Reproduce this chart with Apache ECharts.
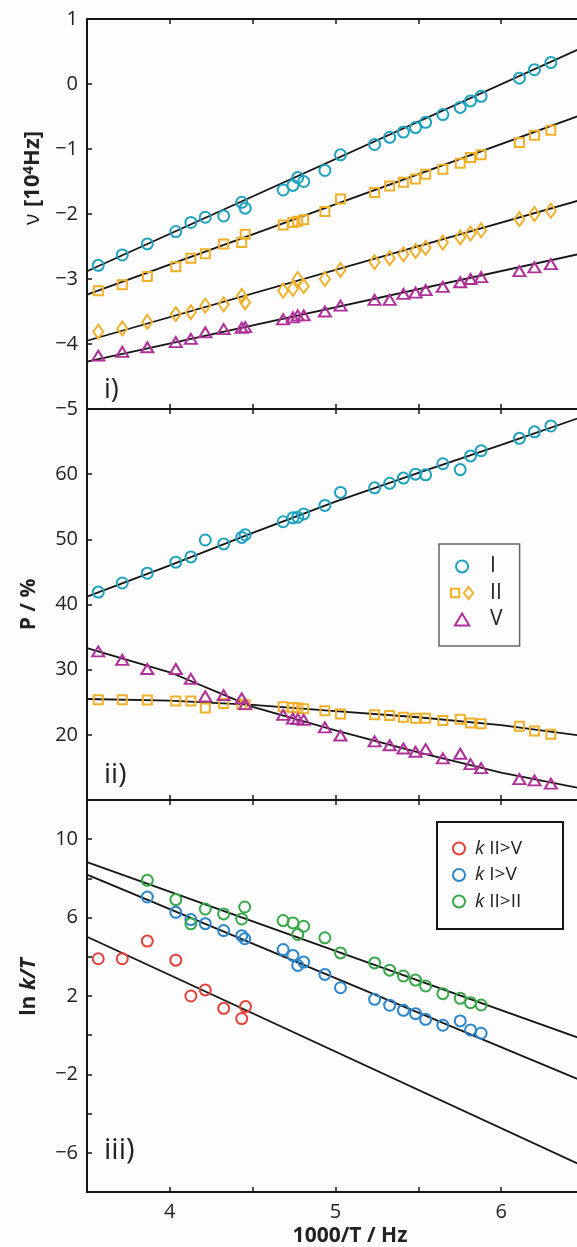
<!DOCTYPE html>
<html>
<head>
<meta charset="utf-8">
<title>Frequencies, populations and rates vs 1000/T</title>
<script src="https://cdn.jsdelivr.net/npm/echarts@6/dist/echarts.min.js"></script>
<style>
  html, body { margin: 0; padding: 0; background: #fdfdfd; }
  #chart { width: 577px; height: 1247px; }
</style>
</head>
<body>
<div id="chart"></div>
<script>
// 1000/T for every measured temperature (panels i and ii)
const invT = [3.568, 3.713, 3.864, 4.036, 4.127, 4.214, 4.325, 4.434, 4.455, 4.684, 4.743, 4.772, 4.808, 4.936, 5.030,
  5.236, 5.327, 5.410, 5.483, 5.544, 5.648, 5.753, 5.815, 5.879, 6.110, 6.201, 6.300]

// panel i) frequencies, 10^4 Hz
const nuI = [-2.79, -2.63, -2.46, -2.27, -2.13, -2.05, -2.03, -1.82, -1.91, -1.63, -1.56, -1.44, -1.50, -1.33, -1.09,
  -0.93, -0.82, -0.74, -0.67, -0.59, -0.47, -0.36, -0.26, -0.19, 0.09, 0.22, 0.33]
const nuIIsq = [-3.18, -3.09, -2.96, -2.81, -2.68, -2.61, -2.46, -2.44, -2.31, -2.17, -2.13, -2.11, -2.09, -1.96, -1.77,
  -1.67, -1.57, -1.51, -1.46, -1.39, -1.31, -1.22, -1.13, -1.09, -0.90, -0.79, -0.71]
const nuIIdia = [-3.81, -3.76, -3.66, -3.54, -3.51, -3.41, -3.39, -3.26, -3.36, -3.18, -3.15, -3.00, -3.11, -3.00, -2.86,
  -2.74, -2.68, -2.62, -2.57, -2.52, -2.44, -2.36, -2.30, -2.25, -2.08, -2.00, -1.95]
const nuV = [-4.18, -4.12, -4.05, -3.97, -3.92, -3.82, -3.77, -3.75, -3.74, -3.62, -3.59, -3.56, -3.56, -3.50, -3.41,
  -3.32, -3.32, -3.23, -3.21, -3.17, -3.12, -3.05, -3.00, -2.97, -2.88, -2.82, -2.77]

// panel ii) populations, %
const pI = [41.9, 43.3, 44.8, 46.5, 47.3, 49.9, 49.3, 50.3, 50.7, 52.7, 53.3, 53.4, 53.9, 55.2, 57.2,
  57.9, 58.6, 59.4, 60.0, 59.9, 61.6, 60.7, 62.8, 63.6, 65.5, 66.5, 67.4]
const pII = [25.4, 25.4, 25.35, 25.2, 25.2, 24.1, 24.8, 24.7, 24.6, 24.3, 24.2, 24.1, 24.0, 23.7, 23.2,
  23.1, 22.95, 22.7, 22.55, 22.55, 22.2, 22.4, 21.8, 21.7, 21.3, 20.6, 20.1]
const pV = [32.8, 31.5, 30.1, 30.1, 28.6, 25.9, 26.1, 25.6, 24.7, 23.05, 22.5, 22.4, 22.3, 21.15, 19.9,
  19.0, 18.4, 17.9, 17.4, 17.8, 16.4, 17.1, 15.5, 14.9, 13.2, 13.0, 12.5]

// panel iii) ln k/T
const kIIVx = [3.568, 3.713, 3.864, 4.036, 4.127, 4.214, 4.325, 4.434, 4.457]
const kIIV = [3.90, 3.90, 4.80, 3.83, 2.00, 2.31, 1.37, 0.85, 1.46]
const kx = [3.864, 4.036, 4.127, 4.214, 4.325, 4.434, 4.452, 4.684, 4.743, 4.772, 4.808, 4.936, 5.030,
  5.236, 5.327, 5.410, 5.483, 5.544, 5.648, 5.753, 5.815, 5.879]
const kIV = [7.05, 6.27, 5.90, 5.69, 5.34, 5.08, 4.92, 4.37, 4.07, 3.56, 3.73, 3.10, 2.42,
  1.83, 1.53, 1.27, 1.10, 0.81, 0.51, 0.73, 0.27, 0.10]
const kIIII = [7.90, 6.92, 5.68, 6.44, 6.19, 5.93, 6.54, 5.85, 5.73, 5.14, 5.56, 4.97, 4.20,
  3.69, 3.32, 3.02, 2.81, 2.51, 2.12, 1.88, 1.66, 1.54]

// fitted curves
const fitEnds = [3.5, 6.5]
const fitNuI = [-2.88, 0.57]
const fitNuIIsq = [-3.24, -0.46]
const fitNuIIdia = [-3.95, -1.77]
const fitNuV = [-4.27, -2.60]
const fitPx = [3.5, 4.0, 4.5, 5.0, 5.5, 6.0, 6.5]
const fitPI = [41.2, 46.0, 51.0, 55.8, 60.2, 64.5, 68.9]
const fitPII = [25.5, 25.25, 24.6, 23.65, 22.7, 21.5, 19.8]
const fitPV = [33.3, 29.6, 24.3, 20.7, 17.3, 14.2, 11.7]
const fitKIIII = [8.83, -0.23]
const fitKIV = [8.19, -2.37]
const fitKIIV = [5.02, -6.70]

const FONT = '"Open Sans", "DejaVu Sans", sans-serif'
const INK = '#151515'
const CYAN = '#1fa2bf', YELLOW = '#f0b02a', MAGENTA = '#b0309a'
const RED = '#e2413a', BLUE = '#2b86cc', GREEN = '#39a84a'

const pairs = (xs, ys) => xs.map((x, i) => [x, ys[i]])
const minus = v => String(v).replace('-', '\u2212')

const frameLine = { show: true, onZero: false, lineStyle: { color: INK, width: 2 } }
const innerTick = { show: true, inside: true, length: 5, lineStyle: { color: INK, width: 1.5 } }

const makeX = (gridIndex, position, showLabel) => ({
  type: 'value',
  gridIndex,
  position,
  min: 3.5,
  max: 6.5,
  interval: 0.5,
  axisLine: frameLine,
  axisTick: innerTick,
  splitLine: { show: false },
  axisLabel: {
    show: showLabel,
    margin: 10,
    fontSize: 20,
    color: '#222',
    fontFamily: FONT,
    formatter: v => Number.isInteger(v) ? String(v) : ''
  }
})

const makeY = (gridIndex, min, max, interval, formatter) => ({
  type: 'value',
  gridIndex,
  min,
  max,
  interval,
  axisLine: frameLine,
  axisTick: innerTick,
  splitLine: { show: false },
  axisLabel: { margin: 9, fontSize: 20, color: '#222', fontFamily: FONT, formatter },
  nameLocation: 'middle',
  nameRotate: 90
})

const dots = (name, axis, xs, ys, symbol, size, color) => ({
  name,
  type: 'scatter',
  xAxisIndex: axis * 2,
  yAxisIndex: axis,
  symbol,
  symbolSize: size,
  data: pairs(xs, ys),
  itemStyle: { color: 'rgba(0,0,0,0)', borderColor: color, borderWidth: 2, opacity: 1 },
  emphasis: { disabled: true },
  z: 3
})

const fit = (axis, xs, ys) => ({
  name: 'fit',
  type: 'line',
  xAxisIndex: axis * 2,
  yAxisIndex: axis,
  data: pairs(xs, ys),
  symbol: 'none',
  silent: true,
  lineStyle: { color: INK, width: 1.8 },
  z: 1
})

const yAxes = [
  makeY(0, -5, 1, 1, v => minus(v)),
  makeY(1, 10, 70, 10, v => (v === 10 || v === 70) ? '' : String(v)),
  makeY(2, -8, 12, 2, v => ((v + 6) % 4 === 0) ? minus(v) : '')
]
yAxes[0].name = '{n|\u03bd}  {b|[10}{s|4}{b|Hz]}'
yAxes[0].nameGap = 40
yAxes[0].nameTextStyle = {
  padding: [0, 0, 0, 72],
  rich: {
    n: { fontFamily: FONT, fontSize: 21, color: '#222', lineHeight: 24 },
    b: { fontFamily: FONT, fontSize: 22, fontWeight: 'bold', color: '#222', lineHeight: 24 },
    s: { fontFamily: FONT, fontSize: 15, fontWeight: 'bold', color: '#222', lineHeight: 15, verticalAlign: 'top' }
  }
}
yAxes[1].name = 'P / %'
yAxes[1].nameGap = 47
yAxes[1].nameTextStyle = { fontFamily: FONT, fontSize: 21, fontWeight: 'bold', color: '#222', lineHeight: 22 }
yAxes[2].name = '{b|ln }{i|k/T}'
yAxes[2].nameGap = 47
yAxes[2].nameTextStyle = {
  padding: [0, 0, 0, 18],
  rich: {
    b: { fontFamily: FONT, fontSize: 21, fontWeight: 'bold', color: '#222', lineHeight: 22 },
    i: { fontFamily: FONT, fontSize: 21, fontWeight: 'bold', fontStyle: 'italic', color: '#222', lineHeight: 22 }
  }
}

const xAxes = [
  makeX(0, 'bottom', false), makeX(0, 'top', false),
  makeX(1, 'bottom', false), makeX(1, 'top', false),
  makeX(2, 'bottom', true), makeX(2, 'top', false)
]
xAxes[4].name = '1000/T / Hz'
xAxes[4].nameLocation = 'middle'
xAxes[4].nameGap = 34
xAxes[4].nameTextStyle = { fontFamily: FONT, fontSize: 21, fontWeight: 'bold', color: '#222', padding: [0, 0, 0, 29] }

const panelLabel = (text, y, size) => ({
  type: 'text',
  x: 104,
  y,
  style: { text, fontFamily: FONT, fontSize: size, fill: '#222', textVerticalAlign: 'middle' },
  silent: true
})

const myChart = echarts.init(document.getElementById('chart'), null, { renderer: 'canvas' })

const option = {
  backgroundColor: '#fdfdfd',
  animation: false,
  grid: [
    { left: 87, top: 19, width: 497, height: 390, outerBoundsMode: 'none' },
    { left: 87, top: 409, width: 497, height: 391, outerBoundsMode: 'none' },
    { left: 87, top: 800, width: 497, height: 392, outerBoundsMode: 'none' }
  ],
  xAxis: xAxes,
  yAxis: yAxes,
  legend: [
    {
      data: ['I', {
        name: 'II',
        icon: 'path://M0,2L9,2L9,11L0,11Z M19,0L24,6.5L19,13L14,6.5Z',
        itemStyle: { color: 'rgba(0,0,0,0)', borderColor: YELLOW, borderWidth: 2 }
      }, {
        name: 'V',
        icon: 'path://M6,0L12,10L0,10Z',
        itemStyle: { color: 'rgba(0,0,0,0)', borderColor: MAGENTA, borderWidth: 2 }
      }],
      orient: 'vertical',
      left: 439,
      top: 544,
      padding: [12, 17, 16, 11],
      itemGap: 5.5,
      itemWidth: 26,
      itemHeight: 12,
      borderColor: '#666',
      borderWidth: 1.5,
      borderRadius: 0,
      selectedMode: false,
      textStyle: { fontFamily: FONT, fontSize: 21, color: '#222', lineHeight: 21, padding: [0, 0, 0, 10] }
    },
    {
      data: ['k II>V', 'k I>V', 'k II>II'],
      orient: 'vertical',
      left: 437,
      top: 822,
      padding: [16, 41, 17, 15],
      itemGap: 5.5,
      itemWidth: 22,
      itemHeight: 12,
      borderColor: INK,
      borderWidth: 2,
      borderRadius: 0,
      selectedMode: false,
      formatter: name => '{i|k} {r|' + name.slice(2) + '}',
      textStyle: {
        fontFamily: FONT, fontSize: 19, color: '#222', lineHeight: 21,
        rich: {
          i: { fontFamily: FONT, fontSize: 19, fontStyle: 'italic', color: '#222', lineHeight: 21 },
          r: { fontFamily: FONT, fontSize: 19, color: '#222', lineHeight: 21 }
        }
      }
    }
  ],
  graphic: [
    panelLabel('i)', 390, 27),
    panelLabel('ii)', 775, 28),
    panelLabel('iii)', 1151, 29)
  ],
  series: [
    fit(0, fitEnds, fitNuI),
    fit(0, fitEnds, fitNuIIsq),
    fit(0, fitEnds, fitNuIIdia),
    fit(0, fitEnds, fitNuV),
    dots('I', 0, invT, nuI, 'circle', 11, CYAN),
    dots('II', 0, invT, nuIIsq, 'rect', 9, YELLOW),
    dots('II diamond', 0, invT, nuIIdia, 'diamond', [10, 14], YELLOW),
    dots('V', 0, invT, nuV, 'triangle', [12, 10], MAGENTA),

    fit(1, fitPx, fitPI),
    fit(1, fitPx, fitPII),
    fit(1, fitPx, fitPV),
    dots('I', 1, invT, pI, 'circle', 11, CYAN),
    dots('II', 1, invT, pII, 'rect', 9, YELLOW),
    dots('V', 1, invT, pV, 'triangle', [12, 10], MAGENTA),

    fit(2, fitEnds, fitKIIII),
    fit(2, fitEnds, fitKIV),
    fit(2, fitEnds, fitKIIV),
    dots('k II>V', 2, kIIVx, kIIV, 'circle', 11, RED),
    dots('k I>V', 2, kx, kIV, 'circle', 11, BLUE),
    dots('k II>II', 2, kx, kIIII, 'circle', 11, GREEN)
  ]
}

myChart.setOption(option)
</script>
</body>
</html>
